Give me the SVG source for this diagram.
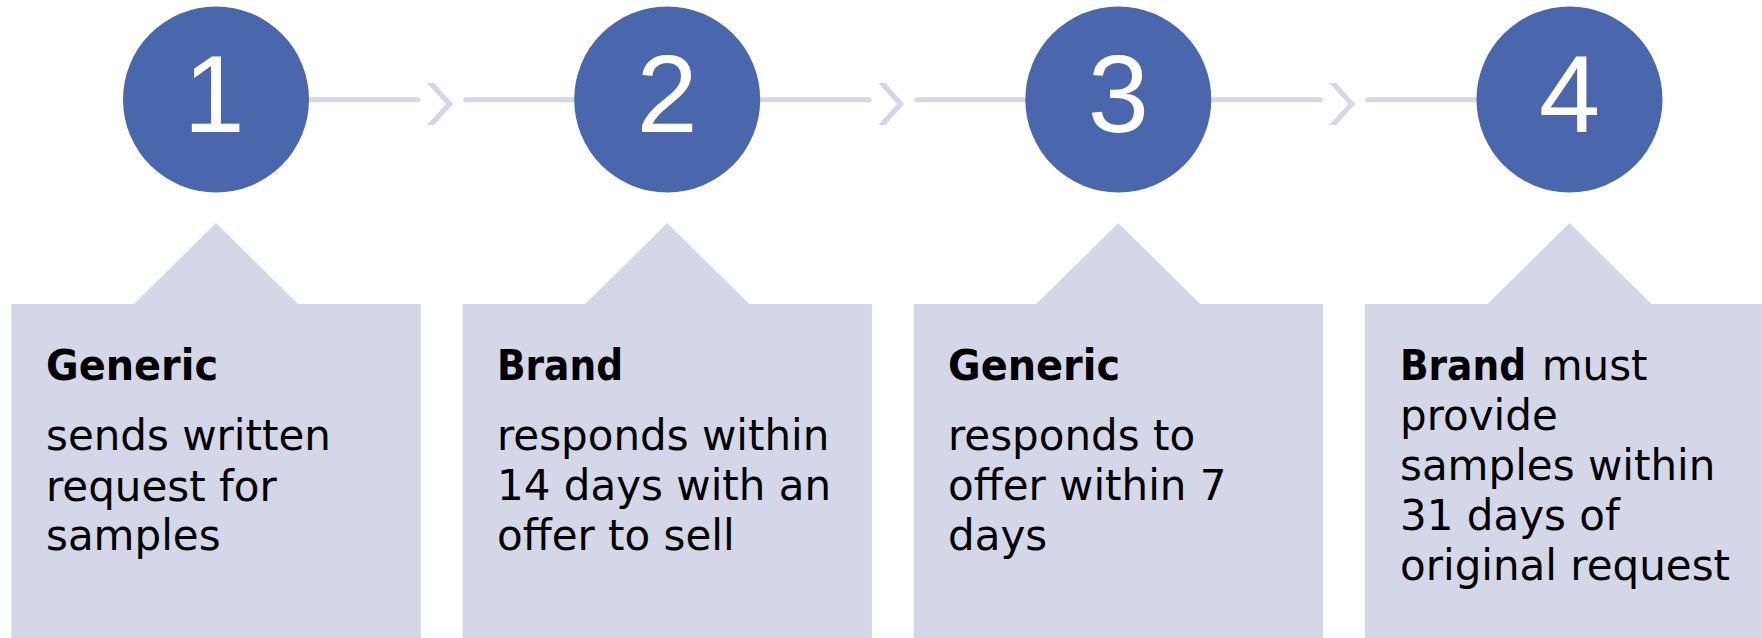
<svg xmlns="http://www.w3.org/2000/svg" width="1762" height="638" viewBox="0 0 1762 638">
  <defs>
    <style>
      .disc { fill: #4A67AD; }
      .num { font-family: "Liberation Sans", Arial, sans-serif; font-size: 110px; fill: #FFFFFF; text-anchor: middle; }
      .card { fill: #D3D7E7; }
      .rule { stroke: #D3D7E7; stroke-width: 5; stroke-linecap: round; fill: none; }
      .chev { fill: #D3D7E7; }
      .head { font-family: "DejaVu Sans", Verdana, sans-serif; font-weight: bold; font-size: 42px; fill: #000000; }
      .body { font-family: "DejaVu Sans", Verdana, sans-serif; font-size: 42px; fill: #000000; }
    </style>
    <!-- callout card: rectangle with a 45-degree pointer on top, origin at pointer tip -->
    <path id="cardShape" d="M-204.7,81 H-82 L0,0 L82,81 H204.7 V420 H-204.7 Z"/>
    <!-- chevron arrowhead, origin at the left end of its outer edge -->
    <polygon id="chevShape" points="0,0 7,0 26,21 7,42 0,42 19,21"/>
  </defs>

  <rect width="1762" height="638" fill="#FFFFFF"/>

  <!-- connectors between the numbered steps -->
  <g id="connectors">
    <line class="rule" x1="300" y1="99.8" x2="418" y2="99.8"/>
    <use href="#chevShape" class="chev" x="427" y="83"/>
    <line class="rule" x1="465.5" y1="99.8" x2="590" y2="99.8"/>

    <line class="rule" x1="751" y1="99.8" x2="869.2" y2="99.8"/>
    <use href="#chevShape" class="chev" x="878.2" y="83"/>
    <line class="rule" x1="916.7" y1="99.8" x2="1041" y2="99.8"/>

    <line class="rule" x1="1202" y1="99.8" x2="1320.3" y2="99.8"/>
    <use href="#chevShape" class="chev" x="1329.3" y="83"/>
    <line class="rule" x1="1367.8" y1="99.8" x2="1492" y2="99.8"/>
  </g>

  <!-- step 1 -->
  <g id="step1">
    <circle class="disc" cx="216" cy="99.5" r="93"/>
    <text class="num" x="214" y="132">1</text>
    <use href="#cardShape" class="card" x="216" y="223"/>
    <text class="head" x="46" y="380" textLength="172" lengthAdjust="spacingAndGlyphs">Generic</text>
    <text class="body" x="46" y="450">sends written</text>
    <text class="body" x="46" y="500.5">request for</text>
    <text class="body" x="46" y="550">samples</text>
  </g>

  <!-- step 2 -->
  <g id="step2">
    <circle class="disc" cx="667.2" cy="99.5" r="93"/>
    <text class="num" x="667.2" y="132">2</text>
    <use href="#cardShape" class="card" x="667.2" y="223"/>
    <text class="head" x="497" y="380" textLength="126" lengthAdjust="spacingAndGlyphs">Brand</text>
    <text class="body" x="497" y="450">responds within</text>
    <text class="body" x="497" y="500">14 days with an</text>
    <text class="body" x="497" y="550">offer to sell</text>
  </g>

  <!-- step 3 -->
  <g id="step3">
    <circle class="disc" cx="1118.3" cy="99.5" r="93"/>
    <text class="num" x="1118.3" y="132">3</text>
    <use href="#cardShape" class="card" x="1118.3" y="223"/>
    <text class="head" x="948" y="380" textLength="172" lengthAdjust="spacingAndGlyphs">Generic</text>
    <text class="body" x="948" y="450">responds to</text>
    <text class="body" x="948" y="500">offer within 7</text>
    <text class="body" x="948" y="550">days</text>
  </g>

  <!-- step 4 -->
  <g id="step4">
    <circle class="disc" cx="1569.5" cy="99.5" r="93"/>
    <text class="num" x="1569.5" y="132">4</text>
    <use href="#cardShape" class="card" x="1569.5" y="223"/>
    <path class="card" d="M1770,304 V638 H1700 V304 Z"/>
    <text class="head" x="1400" y="380" textLength="126" lengthAdjust="spacingAndGlyphs">Brand</text>
    <text class="body" x="1541.7" y="380">must</text>
    <text class="body" x="1400" y="430">provide</text>
    <text class="body" x="1400" y="480">samples within</text>
    <text class="body" x="1400" y="530">31 days of</text>
    <text class="body" x="1400" y="580">original request</text>
  </g>
</svg>
